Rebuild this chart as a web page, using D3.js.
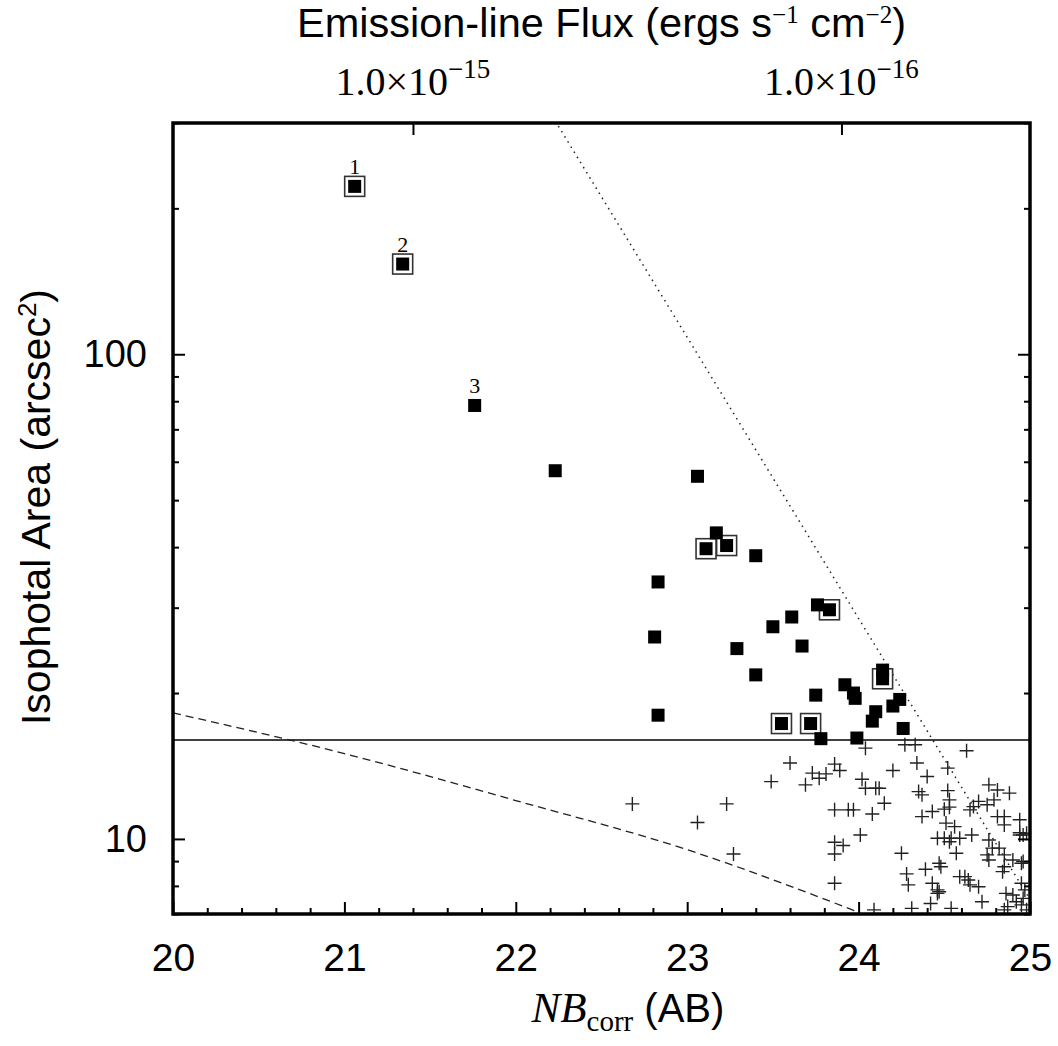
<!DOCTYPE html>
<html>
<head>
<meta charset="utf-8">
<script src="https://cdn.jsdelivr.net/npm/d3@7"></script>
<style>
  body { margin: 0; background: #fff; }
  svg { display: block; }
  .sans { font-family: "Liberation Sans", Arial, Helvetica, sans-serif; }
  .serif { font-family: "Liberation Serif", "Times New Roman", serif; }
</style>
</head>
<body>
<svg id="chart" width="1058" height="1046"></svg>
<script>
// selected emitters (filled squares), NB_corr magnitude and isophotal area
var laeMag  = [21.06, 21.34, 21.76, 22.23, 23.06, 23.17, 23.11, 23.23, 23.40, 22.83,
               22.81, 22.83, 23.29, 23.40, 23.50, 23.61, 23.67, 23.76, 23.83, 23.75,
               23.55, 23.72, 23.78, 23.99, 23.92, 23.97, 23.98, 24.10, 24.08, 24.14,
               24.14, 24.20, 24.24, 24.26];
var laeArea = [222, 153.5, 78.4, 57.5, 56.0, 42.8, 39.7, 40.3, 38.4, 33.9,
               26.1, 18.0, 24.7, 21.8, 27.4, 28.7, 25.0, 30.4, 29.7, 19.8,
               17.3, 17.3, 16.1, 16.15, 20.8, 20.0, 19.5, 18.3, 17.5, 22.3,
               21.4, 18.8, 19.4, 16.9];
// which of them carry the open box
var laeBoxed = [1, 1, 0, 0, 0, 0, 1, 1, 0, 0,
                0, 0, 0, 0, 0, 0, 0, 0, 1, 0,
                1, 1, 0, 0, 0, 0, 0, 0, 0, 0,
                1, 0, 0, 0];
var laeLabels = ["1", "2", "3"];

// fainter / smaller sources (crosses)
var srcMag  = [22.68, 23.23, 23.06, 23.27, 23.49, 23.60, 23.69, 23.73, 23.77, 23.81,
               23.86, 23.89, 24.04, 24.02, 24.04, 24.10, 24.12, 24.20, 24.15, 23.86,
               23.94, 23.97, 24.08, 24.01, 23.86, 23.91, 23.86, 23.86, 24.25, 24.27,
               24.33, 24.63, 24.34, 24.40, 24.52, 24.35, 24.37, 24.52, 24.53, 24.43,
               24.37, 24.50, 24.53, 24.56, 24.51, 24.46, 24.50, 24.54, 24.59, 24.53,
               24.66, 24.57, 24.65, 24.67, 24.70, 24.76, 24.81, 24.88, 24.79, 24.75,
               24.81, 24.85, 24.85, 24.94, 24.96, 24.94, 24.76, 24.78, 24.82, 24.75,
               24.76, 24.85, 24.90, 24.96, 24.85, 24.84, 24.39, 24.47, 24.48, 24.28,
               24.29, 24.43, 24.46, 24.46, 24.47, 24.42, 24.59, 24.62, 24.64, 24.65,
               24.70, 24.72, 24.54, 24.31, 24.86, 24.90, 24.95, 24.97, 24.96, 24.92,
               24.95, 24.87, 24.85, 24.98, 24.94, 24.98, 24.95, 24.09];
var srcArea = [11.81, 11.81, 10.81, 9.31, 13.13, 14.34, 12.93, 13.67, 13.34, 13.62,
               14.27, 13.84, 15.39, 13.28, 12.72, 12.72, 12.72, 13.84, 11.85, 11.48,
               11.48, 11.48, 11.26, 10.19, 9.84, 9.69, 9.31, 8.10, 9.34, 15.64,
               15.64, 15.20, 14.34, 13.45, 14.00, 12.52, 12.33, 12.58, 12.04, 11.39,
               11.12, 11.52, 11.63, 10.60, 10.78, 10.03, 10.03, 10.03, 10.03, 9.87,
               10.19, 9.34, 11.48, 11.66, 11.95, 12.93, 12.62, 12.43, 12.04, 11.76,
               11.12, 11.12, 10.69, 10.95, 10.19, 10.19, 9.95, 9.57, 9.57, 9.27,
               9.05, 9.27, 9.05, 8.98, 8.76, 8.56, 8.66, 8.91, 8.76, 8.47,
               8.04, 8.10, 7.85, 7.72, 7.78, 7.36, 8.36, 8.36, 8.23, 8.04,
               7.97, 7.42, 7.19, 7.19, 7.72, 7.66, 8.10, 7.85, 7.54, 7.42,
               7.31, 7.25, 7.14, 7.14, 10.30, 10.27, 8.91, 7.14];

// selection limits
var areaCut = 16;                                                    // solid line
var psfLine = [[20, 18.2], [21, 15.0], [22, 12.0], [23, 9.5], [24, 7.06]]; // dashed curve
var limLine = [[22.23, 303], [25, 7.5]];                             // dotted line

// axis ticks
var xMajor = [20, 21, 22, 23, 24, 25];
var yMajor = [10, 100];
var fluxTicks = [1e-15, 1e-16];
var fluxLabels = [["1.0\u00d710", "\u221215"], ["1.0\u00d710", "\u221216"]];
var magZero = -16.1;  // NB = -2.5 log10(F) + magZero

var svg = d3.select("#chart");
var pL = 173, pR = 1030, pT = 123, pB = 914;

var x = d3.scaleLinear().domain([20, 25]).range([pL, pR]);
var y = d3.scaleLog().domain([7, 300]).range([pB, pT]);

function magToFlux(m) { return Math.pow(10, -(m - magZero) / 2.5); }
var xFlux = d3.scaleLog().domain([magToFlux(20), magToFlux(25)]).range([pL, pR]);

// minor ticks
var xMinor = d3.range(20, 25.001, 0.2).filter(function(v) {
  return Math.abs(v - Math.round(v)) > 0.01;
});
var yMinor = [];
[1, 10, 100].forEach(function(dec) {
  for (var k = 2; k <= 9; k++) {
    var v = k * dec;
    if (v >= 7 && v <= 300 && v !== 10 && v !== 100) yMinor.push(v);
  }
});

svg.append("defs").append("clipPath").attr("id", "plotclip")
  .append("rect")
  .attr("x", pL).attr("y", pT)
  .attr("width", pR - pL).attr("height", pB - pT);

var plot = svg.append("g").attr("clip-path", "url(#plotclip)");

// limit lines
var line = d3.line()
  .x(function(d) { return x(d[0]); })
  .y(function(d) { return y(d[1]); });

plot.append("line")
  .attr("x1", pL).attr("x2", pR)
  .attr("y1", y(areaCut)).attr("y2", y(areaCut))
  .attr("stroke", "#000").attr("stroke-width", 1.4);

plot.append("path")
  .attr("d", line.curve(d3.curveMonotoneX)(psfLine))
  .attr("fill", "none").attr("stroke", "#222")
  .attr("stroke-width", 1.3).attr("stroke-dasharray", "8,5");

plot.append("path")
  .attr("d", line.curve(d3.curveLinear)(limLine))
  .attr("fill", "none").attr("stroke", "#222")
  .attr("stroke-width", 1.5).attr("stroke-dasharray", "1.5,4.5");

// crosses
var crossData = srcMag.map(function(m, i) { return [m, srcArea[i]]; });
plot.selectAll("path.cross")
  .data(crossData)
  .enter().append("path")
  .attr("class", "cross")
  .attr("d", function(d) {
    var cx = x(d[0]), cy = y(d[1]), r = 7;
    return "M" + (cx - r) + "," + cy + "H" + (cx + r) +
           "M" + cx + "," + (cy - r) + "V" + (cy + r);
  })
  .attr("stroke", "#222").attr("stroke-width", 1.4).attr("fill", "none");

// selected objects
var lae = laeMag.map(function(m, i) {
  return { m: m, a: laeArea[i], boxed: laeBoxed[i], label: laeLabels[i] };
});

svg.selectAll("rect.box")
  .data(lae.filter(function(d) { return d.boxed; }))
  .enter().append("rect")
  .attr("class", "box")
  .attr("x", function(d) { return x(d.m) - 10; })
  .attr("y", function(d) { return y(d.a) - 10; })
  .attr("width", 20).attr("height", 20)
  .attr("fill", "#fff").attr("stroke", "#333").attr("stroke-width", 1.6);

svg.selectAll("rect.lae")
  .data(lae)
  .enter().append("rect")
  .attr("class", "lae")
  .attr("x", function(d) { return x(d.m) - 6.5; })
  .attr("y", function(d) { return y(d.a) - 6.5; })
  .attr("width", 13).attr("height", 13)
  .attr("fill", "#000");

svg.selectAll("text.num")
  .data(lae.filter(function(d) { return d.label; }))
  .enter().append("text")
  .attr("class", "num serif")
  .attr("x", function(d) { return x(d.m); })
  .attr("y", function(d) { return y(d.a) - 12; })
  .attr("text-anchor", "middle")
  .attr("font-size", 22)
  .text(function(d) { return d.label; });

// axes
function styleAxis(g) {
  g.select(".domain").remove();
  g.selectAll(".tick line").attr("stroke", "#000").attr("stroke-width", 2);
}

svg.append("g").attr("transform", "translate(0," + pB + ")")
  .call(d3.axisBottom(x).tickValues(xMajor).tickSize(-12).tickPadding(29)
        .tickFormat(d3.format("d")))
  .call(styleAxis)
  .call(function(g) {
    g.selectAll("text").attr("class", "sans").attr("font-size", 39)
      .attr("fill", "#000");
  });
svg.append("g").attr("transform", "translate(0," + pB + ")")
  .call(d3.axisBottom(x).tickValues(xMinor).tickSize(-6).tickFormat(""))
  .call(styleAxis);

svg.append("g").attr("transform", "translate(" + pL + ",0)")
  .call(d3.axisLeft(y).tickValues(yMajor).tickSize(-12).tickPadding(26)
        .tickFormat(d3.format("d")))
  .call(styleAxis)
  .call(function(g) {
    g.selectAll("text").attr("class", "sans").attr("font-size", 38)
      .attr("fill", "#000");
  });
svg.append("g").attr("transform", "translate(" + pL + ",0)")
  .call(d3.axisLeft(y).tickValues(yMinor).tickSize(-6).tickFormat(""))
  .call(styleAxis);

svg.append("g").attr("transform", "translate(" + pR + ",0)")
  .call(d3.axisRight(y).tickValues(yMajor).tickSize(-12).tickFormat(""))
  .call(styleAxis);
svg.append("g").attr("transform", "translate(" + pR + ",0)")
  .call(d3.axisRight(y).tickValues(yMinor).tickSize(-6).tickFormat(""))
  .call(styleAxis);

svg.append("g").attr("transform", "translate(0," + pT + ")")
  .call(d3.axisTop(xFlux).tickValues(fluxTicks).tickSize(-12).tickFormat(""))
  .call(styleAxis);

var fluxText = svg.selectAll("text.flux")
  .data(fluxTicks)
  .enter().append("text")
  .attr("class", "flux serif")
  .attr("x", function(d) { return xFlux(d); })
  .attr("y", 95)
  .attr("text-anchor", "middle")
  .attr("font-size", 40);
fluxText.append("tspan").text(function(d, i) { return fluxLabels[i][0]; });
fluxText.append("tspan").attr("dy", -17).attr("font-size", 27)
  .text(function(d, i) { return fluxLabels[i][1]; });

// frame
svg.append("rect")
  .attr("x", pL).attr("y", pT)
  .attr("width", pR - pL).attr("height", pB - pT)
  .attr("fill", "none").attr("stroke", "#000").attr("stroke-width", 3.5);

// titles
var t = svg.append("text")
  .attr("class", "sans")
  .attr("x", (pL + pR) / 2).attr("y", 37)
  .attr("text-anchor", "middle").attr("font-size", 41.5);
t.append("tspan").text("Emission-line Flux (ergs s");
t.append("tspan").attr("class", "serif").attr("dy", -14).attr("font-size", 25).text("\u22121");
t.append("tspan").attr("dy", 14).text(" cm");
t.append("tspan").attr("class", "serif").attr("dy", -14).attr("font-size", 25).text("\u22122");
t.append("tspan").attr("dy", 14).text(")");

var xl = svg.append("text")
  .attr("x", 628).attr("y", 1022)
  .attr("text-anchor", "middle");
xl.append("tspan").attr("class", "serif").attr("font-style", "italic")
  .attr("font-size", 43).text("NB");
xl.append("tspan").attr("class", "serif").attr("font-size", 29)
  .attr("dy", 9).text("corr");
xl.append("tspan").attr("class", "sans").attr("font-size", 40)
  .attr("dy", -9).text(" (AB)");

var yl = svg.append("text")
  .attr("class", "sans")
  .attr("transform", "translate(50," + 507 + ") rotate(-90)")
  .attr("text-anchor", "middle").attr("font-size", 41);
yl.append("tspan").text("Isophotal Area (arcsec");
yl.append("tspan").attr("dy", -14).attr("font-size", 26).text("2");
yl.append("tspan").attr("dy", 14).text(")");
</script>
</body>
</html>
